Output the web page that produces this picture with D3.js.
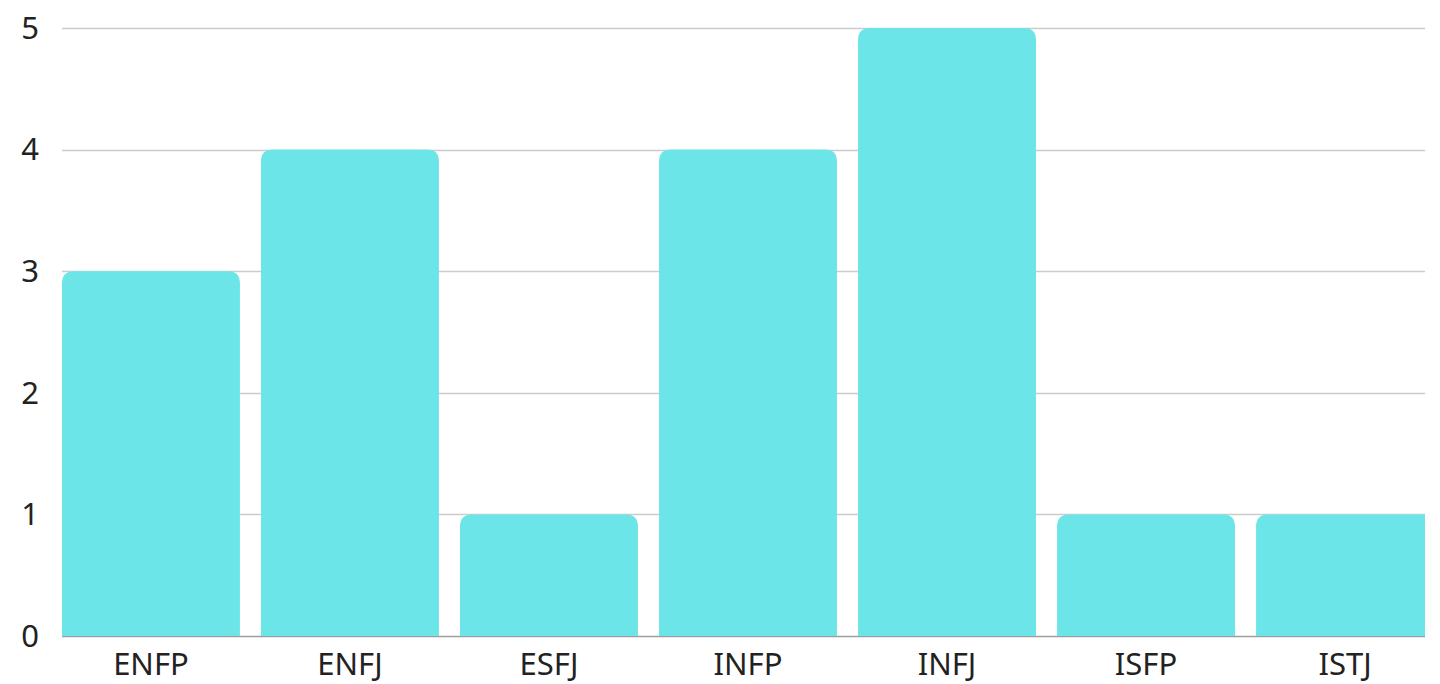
<!DOCTYPE html>
<html>
<head>
<meta charset="utf-8">
<script src="https://cdn.jsdelivr.net/npm/d3@7"></script>
<style>
  html, body { margin: 0; padding: 0; background: #fff; }
  svg { display: block; font-family: "Noto Sans", sans-serif; }
</style>
</head>
<body>
<div id="chart"></div>
<script>
var categories = ['ENFP', 'ENFJ', 'ESFJ', 'INFP', 'INFJ', 'ISFP', 'ISTJ']
var counts = [3, 4, 1, 4, 5, 1, 1]
var yTicks = [0, 1, 2, 3, 4, 5]

var width = 1440, height = 684
var plotLeft = 62, plotRight = 1425, plotTop = 28, plotBottom = 636

var svg = d3.select('#chart')
            .append('svg')
            .attr('width', width)
            .attr('height', height)

svg.append('clipPath')
   .attr('id', 'plot-clip')
   .append('rect')
   .attr('x', plotLeft)
   .attr('y', 0)
   .attr('width', plotRight - plotLeft)
   .attr('height', plotBottom + 1)

var x = d3.scaleBand()
          .domain(categories)
          .range([plotLeft, 1434])
          .paddingInner(0.106)
          .paddingOuter(0)

var y = d3.scaleLinear()
          .domain([0, 5])
          .range([plotBottom, plotTop])

// gridlines
svg.append('g')
   .selectAll('line')
   .data(yTicks)
   .enter()
   .append('line')
   .attr('x1', plotLeft)
   .attr('x2', plotRight)
   .attr('y1', function(d) { return Math.round(y(d)) + 0.5 })
   .attr('y2', function(d) { return Math.round(y(d)) + 0.5 })
   .attr('stroke', function(d) { return d === 0 ? '#9e9e9e' : '#cccccc' })
   .attr('stroke-width', 1.5)

// bars with rounded top corners
var r = 12
function barPath(d, i) {
  var x0 = x(categories[i]), w = x.bandwidth()
  var top = y(d), bottom = y(0)
  var rr = Math.min(r, (bottom - top) / 2)
  return 'M' + x0 + ',' + bottom +
         'V' + (top + rr) +
         'Q' + x0 + ',' + top + ' ' + (x0 + rr) + ',' + top +
         'H' + (x0 + w - rr) +
         'Q' + (x0 + w) + ',' + top + ' ' + (x0 + w) + ',' + (top + rr) +
         'V' + bottom + 'Z'
}

svg.append('g')
   .attr('clip-path', 'url(#plot-clip)')
   .selectAll('path')
   .data(counts)
   .enter()
   .append('path')
   .attr('d', barPath)
   .attr('fill', '#6be5e8')

// y labels
svg.append('g')
   .selectAll('text')
   .data(yTicks)
   .enter()
   .append('text')
   .attr('x', 39)
   .attr('y', function(d) { return y(d) })
   .attr('dy', '0.35em')
   .attr('text-anchor', 'end')
   .attr('font-size', 31)
   .attr('fill', '#222')
   .text(function(d) { return d })

// x labels
svg.append('g')
   .selectAll('text')
   .data(categories)
   .enter()
   .append('text')
   .attr('x', function(d) { return x(d) + x.bandwidth() / 2 })
   .attr('y', 675)
   .attr('text-anchor', 'middle')
   .attr('font-size', 31)
   .attr('fill', '#222')
   .text(function(d) { return d })
</script>
</body>
</html>
